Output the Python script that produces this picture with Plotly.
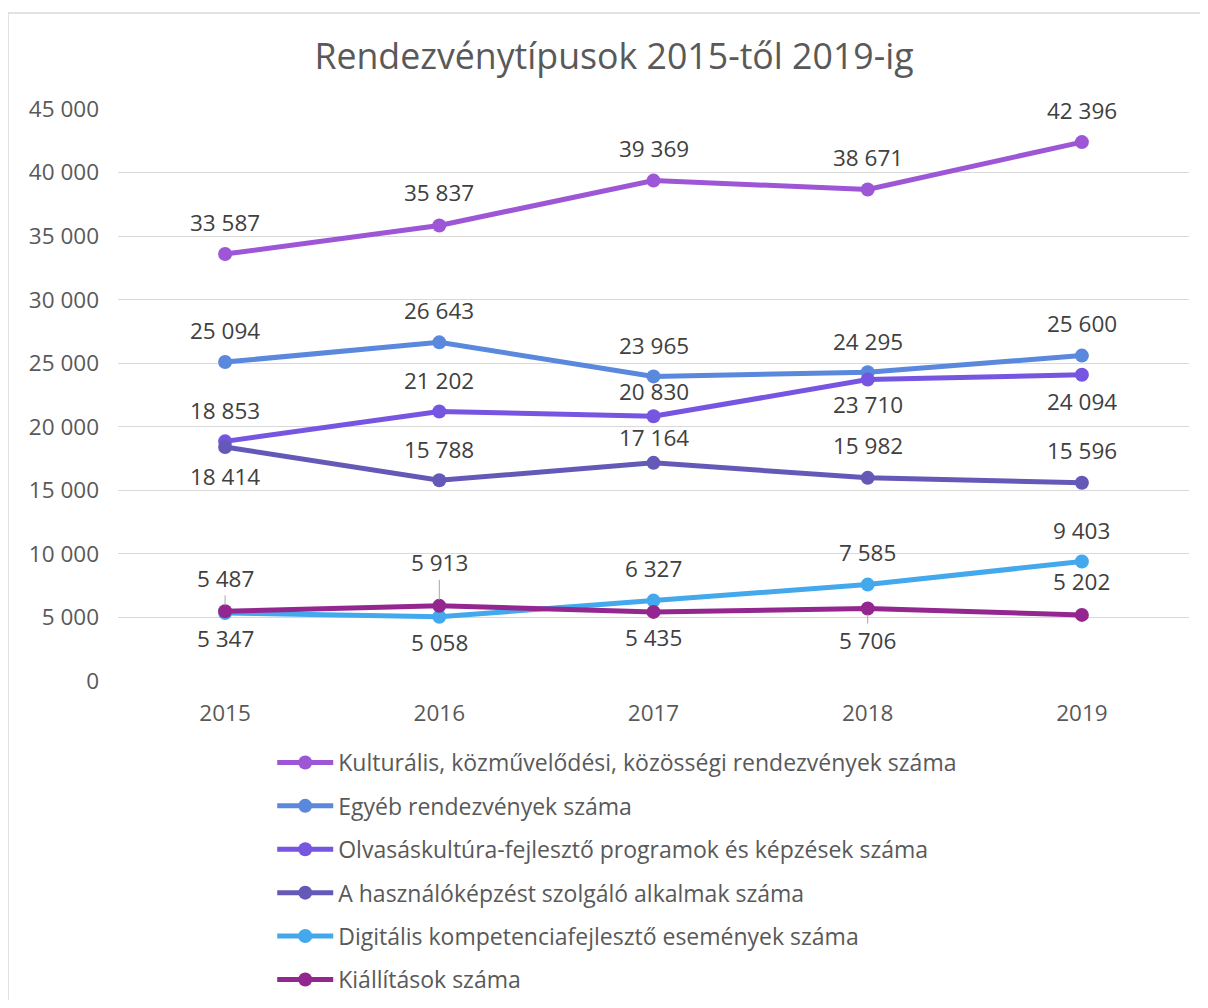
import plotly.graph_objects as go

years = ["2015", "2016", "2017", "2018", "2019"]
series_names = [
    "Kulturális, közművelődési, közösségi rendezvények száma",
    "Egyéb rendezvények száma",
    "Olvasáskultúra-fejlesztő programok és képzések száma",
    "A használóképzést szolgáló alkalmak száma",
    "Digitális kompetenciafejlesztő események száma",
    "Kiállítások száma",
]
kulturalis = [33587, 35837, 39369, 38671, 42396]
egyeb = [25094, 26643, 23965, 24295, 25600]
olvasas = [18853, 21202, 20830, 23710, 24094]
hasznalo = [18414, 15788, 17164, 15982, 15596]
digitalis = [5347, 5058, 6327, 7585, 9403]
kiallitas = [5487, 5913, 5435, 5706, 5202]
y_ticks = [0, 5000, 10000, 15000, 20000, 25000, 30000, 35000, 40000, 45000]

all_series = [kulturalis, egyeb, olvasas, hasznalo, digitalis, kiallitas]
colors = ["#9c56d6", "#5a88dc", "#7655e0", "#6559b8", "#44a8ec", "#93278f"]

# label offsets (pixels, negative = above), and leader line flags
offsets = [
    [-32, -33, -32, -32, -32],
    [-32, -32, -31, -31, -32],
    [-31, -31, -25, 25, 27],
    [30, -31, -25, -32, -32],
    [25, 26, -32, -32, -31],
    [-33, -43, 26, 32, -33],
]
leaders = [
    [False] * 5, [False] * 5, [False] * 5, [False] * 5, [False] * 5,
    [True, True, False, True, False],
]

FONT = "Open Sans"
TXT = "#404040"
FS = 22.5
W, H = 1192, 992

def fmt(v):
    return f"{v:,}".replace(",", " ")

fig = go.Figure()
for i, (name, vals) in enumerate(zip(series_names, all_series)):
    fig.add_trace(go.Scatter(
        x=years, y=vals, name=name, mode="lines+markers",
        line=dict(color=colors[i], width=5),
        marker=dict(color=colors[i], size=14),
        legendgroup=f"g{i}",
    ))

annotations = []
for i, vals in enumerate(all_series):
    for j, v in enumerate(vals):
        if leaders[i][j]:
            annotations.append(dict(
                x=j, y=v, xref="x", yref="y", text=fmt(v), showarrow=True, arrowhead=0,
                arrowwidth=1, arrowcolor="#a6a6a6", ax=0, ay=offsets[i][j],
                standoff=6, font=dict(family=FONT, size=FS, color=TXT),
            ))
        else:
            annotations.append(dict(
                x=j, y=v, xref="x", yref="y", text=fmt(v), showarrow=False,
                yshift=-offsets[i][j], font=dict(family=FONT, size=FS, color=TXT),
            ))

fig.update_layout(
    width=W, height=H,
    paper_bgcolor="white", plot_bgcolor="white",
    margin=dict(l=110, r=11, t=101, b=319),
    separators=", ",
    title=dict(text="Rendezvénytípusok 2015-től 2019-ig", x=(614 - 8) / W, xanchor="center",
               y=1 - 49 / H, yanchor="middle", yref="container",
               font=dict(family=FONT, size=35.7, color="#595959")),
    font=dict(family=FONT, size=FS, color="#595959"),
    xaxis=dict(type="category", range=[-0.5, 4.5], showgrid=False, showline=False,
               ticks="", tickfont=dict(size=FS, color="#595959"), ticklabelstandoff=16,
               zeroline=False),
    yaxis=dict(range=[0, 45000], tickvals=y_ticks, tickformat=",d", showgrid=True,
               gridcolor="#d9d9d9", gridwidth=1.3, zeroline=False, showline=False,
               ticks="", tickfont=dict(size=FS, color="#595959"), ticklabelstandoff=18),
    legend=dict(orientation="v", x=0.144, xanchor="left", xref="paper",
                y=1 - 733 / H, yanchor="top", yref="container",
                bgcolor="rgba(0,0,0,0)",
                font=dict(family=FONT, size=23, color="#595959"), tracegroupgap=10.5,
                itemwidth=56),
    annotations=annotations,
    showlegend=True,
)
# chart frame: left and top edges only (right/bottom lie outside the picture)
bx0 = (8 - 118) / 1071
bx1 = (1240 - 118) / 1071
by0 = (681 - 1040) / 572
by1 = (681 - 13) / 572
fig.add_shape(type="path", xref="paper", yref="paper",
              path=f"M {bx0} {by0} L {bx0} {by1} L {bx1} {by1}",
              line=dict(color="#d9d9d9", width=1.5), layer="below")

fig.write_html("out.html")
